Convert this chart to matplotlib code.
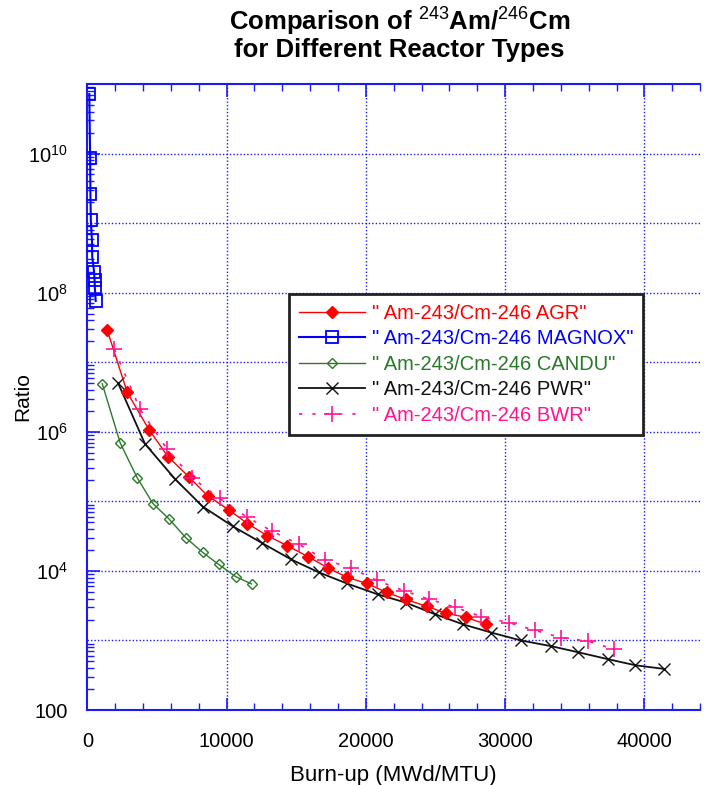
import numpy as np
import matplotlib
matplotlib.use("Agg")
from matplotlib import pyplot as plt
from matplotlib.ticker import MultipleLocator, LogLocator, NullFormatter

plt.rcParams['font.family'] = ['Liberation Sans', 'DejaVu Sans']
plt.rcParams['mathtext.fontset'] = 'custom'
plt.rcParams['mathtext.rm'] = 'Liberation Sans'
plt.rcParams['mathtext.it'] = 'Liberation Sans'
plt.rcParams['mathtext.bf'] = 'Liberation Sans:bold'

# burn-up (MWd/MTU) and Am-243/Cm-246 ratio
agr_x = [1430, 2860, 4430, 5790, 7290, 8640, 10140, 11500, 12930, 14360,
         15860, 17290, 18640, 20070, 21500, 22860, 24360, 25790, 27210, 28640]
agr_y = [2.9e7, 3.7e6, 1.07e6, 4.4e5, 2.25e5, 1.2e5, 7.6e4, 4.8e4, 3.2e4, 2.3e4,
         1.6e4, 1.1e4, 8.1e3, 6.6e3, 4.9e3, 3.9e3, 3.1e3, 2.45e3, 2.15e3, 1.7e3]

magnox_x = [140, 200, 220, 250, 330, 350, 480, 520, 540, 600]
magnox_y = [7.2e10, 8.5e9, 2.6e9, 1.1e9, 5.7e8, 3.3e8, 2.0e8, 1.5e8, 1.15e8, 7.6e7]

candu_x = [1070, 2360, 3570, 4710, 5860, 7070, 8290, 9430, 10640, 11790]
candu_y = [4.9e6, 6.9e5, 2.2e5, 9.3e4, 5.6e4, 3.0e4, 1.84e4, 1.24e4, 8.3e3, 6.5e3]

pwr_x = [2210, 4140, 6290, 8290, 10430, 12570, 14640, 16640, 18640, 20860,
         22860, 24930, 27000, 29000, 31140, 33290, 35210, 37360, 39360, 41430]
pwr_y = [5.0e6, 6.7e5, 2.1e5, 8.4e4, 4.4e4, 2.5e4, 1.46e4, 9.5e3, 6.6e3, 4.6e3,
         3.5e3, 2.4e3, 1.7e3, 1.3e3, 1.0e3, 830, 680, 540, 440, 390]

bwr_x = [1930, 3790, 5710, 7500, 9500, 11430, 13290, 15210, 17070, 18930,
         20790, 22710, 24570, 26430, 28290, 30290, 32140, 34000, 35930, 37790]
bwr_y = [1.55e7, 2.1e6, 5.7e5, 2.2e5, 1.1e5, 6.0e4, 3.7e4, 2.4e4, 1.45e4, 1.1e4,
         7.3e3, 5.2e3, 3.9e3, 3.0e3, 2.2e3, 1.8e3, 1.4e3, 1.1e3, 980, 750]

ytick_vals = [1e2, 1e4, 1e6, 1e8, 1e10]
ytick_labels = ['100', r'$10^4$', r'$10^6$', r'$10^8$', r'$10^{10}$']

blue = '#1a1aff'
fig = plt.figure(figsize=(7.09, 7.85), dpi=100)
ax = fig.add_axes([0.1232, 0.0955, 0.8642, 0.7975])

ax.plot(agr_x, agr_y, color='#ff0000', lw=1.0, marker='D', ms=6.5,
        mfc='#ff0000', mec='#ff0000', label='" Am-243/Cm-246 AGR"', zorder=4)
ax.plot(magnox_x, magnox_y, color='#0000ff', lw=1.5, marker='s', ms=8,
        mfc='none', mec='#0000ff', mew=1.3, label='" Am-243/Cm-246 MAGNOX"', zorder=4)
ax.plot(candu_x, candu_y, color='#2a7a2a', lw=1.0, marker='D', ms=5.5,
        mfc='none', mec='#2a7a2a', mew=1.0, label='" Am-243/Cm-246 CANDU"', zorder=4)
ax.plot(pwr_x, pwr_y, color='#111111', lw=1.3, marker='x', ms=9,
        mec='#111111', mew=1.0, label='" Am-243/Cm-246 PWR"', zorder=3)
ax.plot(bwr_x, bwr_y, color='#ff1493', lw=1.2, ls=(0, (2, 6)), marker='+', ms=11,
        mec='#ff1493', mew=1.2, label='" Am-243/Cm-246 BWR"', zorder=5)

ax.set_yscale('log')
ax.set_xlim(0, 44000)
ax.set_ylim(100, 1e11)

ax.xaxis.set_major_locator(MultipleLocator(10000))
ax.xaxis.set_minor_locator(MultipleLocator(2000))
ax.yaxis.set_minor_locator(LogLocator(base=10, subs=np.arange(2, 10), numticks=20))
ax.yaxis.set_minor_formatter(NullFormatter())
ax.set_yticks(ytick_vals)
ax.set_yticklabels(ytick_labels)
# grid on every decade
for k in range(3, 11):
    ax.axhline(10.0 ** k, color=blue, lw=1.0, ls=(0, (1, 1.5)), zorder=1)
for xv in [10000, 20000, 30000, 40000]:
    ax.axvline(xv, color=blue, lw=1.0, ls=(0, (1, 1.5)), zorder=1)

for s in ax.spines.values():
    s.set_color(blue)
    s.set_linewidth(1.5)
ax.spines['right'].set_visible(False)
ax.tick_params(which='both', direction='in', color=blue, top=True, right=False,
               labelsize=14.5, labelcolor='black')
ax.tick_params(which='major', length=9, width=1.2)
ax.tick_params(axis='x', which='major', pad=16)
ax.tick_params(axis='y', which='major', pad=14)
ax.tick_params(which='minor', length=5, width=1.0)

ax.set_xlabel('Burn-up (MWd/MTU)', fontsize=16, labelpad=10)
ax.set_ylabel('Ratio', fontsize=15, va='center')
ax.yaxis.set_label_coords(-0.105, 0.5)

fig.text(0.5635, 0.972, r'Comparison of $^{243}$Am/$^{246}$Cm', ha='center', va='center',
         fontsize=18.5, fontweight='bold')
fig.text(0.5635, 0.936, 'for Different Reactor Types', ha='center', va='center',
         fontsize=18.5, fontweight='bold')

leg = ax.legend(loc='upper left', bbox_to_anchor=(0.329, 0.665), borderaxespad=0,
                fontsize=14.5, frameon=True, fancybox=False, framealpha=1,
                edgecolor='#222222', borderpad=0.5, labelspacing=0.32,
                handlelength=3.3, handletextpad=0.3)
leg.get_frame().set_linewidth(2)
for txt, line in zip(leg.get_texts(), leg.get_lines()):
    txt.set_color(line.get_color())

fig.savefig('out.png', dpi=100)
